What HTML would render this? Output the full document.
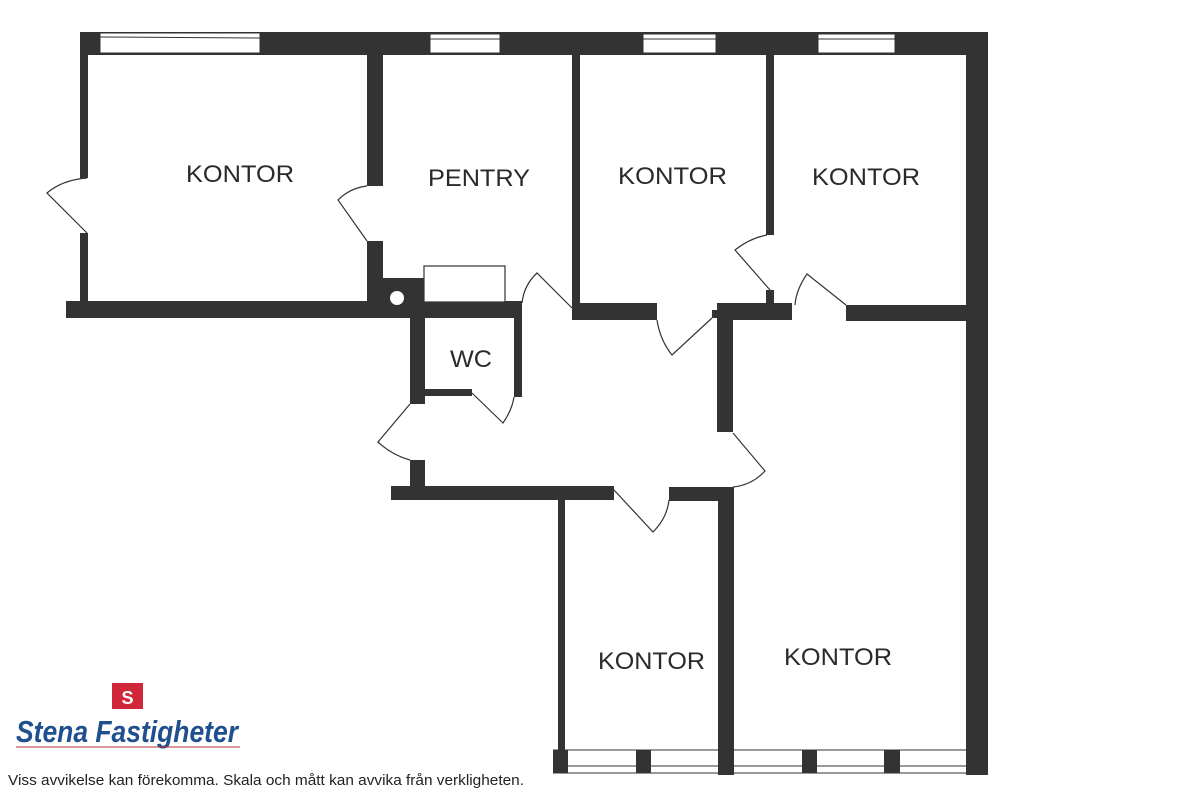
<!DOCTYPE html>
<html><head><meta charset="utf-8"><style>
html,body{margin:0;padding:0;background:#fff;width:1188px;height:800px;overflow:hidden}
svg{display:block}
.t{font-family:"Liberation Sans",Arial,sans-serif;font-size:24px;fill:#2a2a2a}
</style></head><body>
<svg width="1188" height="800" viewBox="0 0 1188 800" xmlns="http://www.w3.org/2000/svg">
<g fill="#333">
<rect x="80" y="32" width="908" height="23"/>
<rect x="966" y="32" width="22" height="743"/>
<rect x="80" y="55" width="8" height="123"/>
<rect x="80" y="233" width="8" height="70"/>
<rect x="66" y="301" width="456" height="17"/>
<rect x="367" y="55" width="16" height="131"/>
<rect x="367" y="241" width="16" height="62"/>
<rect x="383" y="278" width="42" height="40"/>
<rect x="572" y="55" width="8" height="263"/>
<rect x="572" y="303" width="85" height="17"/>
<rect x="766" y="55" width="8" height="180"/>
<rect x="766" y="290" width="8" height="15"/>
<rect x="717" y="303" width="75" height="17"/>
<rect x="712" y="310" width="6" height="8"/>
<rect x="846" y="305" width="120" height="16"/>
<rect x="717" y="318" width="16" height="114"/>
<rect x="410" y="318" width="15" height="86"/>
<rect x="514" y="318" width="8" height="79"/>
<rect x="425" y="389" width="47" height="7"/>
<rect x="410" y="460" width="15" height="27"/>
<rect x="391" y="486" width="223" height="14"/>
<rect x="669" y="487" width="64" height="14"/>
<rect x="718" y="487" width="16" height="288"/>
<rect x="558" y="500" width="7" height="252"/>
<rect x="553" y="750" width="15" height="23"/>
<rect x="636" y="750" width="15" height="23"/>
<rect x="802" y="750" width="15" height="23"/>
<rect x="884" y="750" width="16" height="23"/>
</g>
<g fill="#fff" stroke="#333" stroke-width="1">
<rect x="100" y="33" width="160" height="20"/>
<rect x="430" y="34" width="70" height="19"/>
<rect x="643" y="34" width="73" height="19"/>
<rect x="818" y="34" width="77" height="19"/>
</g>
<g stroke="#333" stroke-width="1">
<line x1="100" y1="37" x2="260" y2="38"/>
<line x1="430" y1="39" x2="500" y2="39"/>
<line x1="643" y1="39" x2="716" y2="39"/>
<line x1="818" y1="39" x2="895" y2="39"/>
<line x1="553" y1="750" x2="966" y2="750"/>
<line x1="553" y1="766" x2="988" y2="766"/>
<line x1="553" y1="773" x2="988" y2="773"/>
</g>
<circle cx="397" cy="298" r="7" fill="#fff"/>
<rect x="424" y="266" width="81" height="36" fill="#fff" stroke="#333" stroke-width="1.2"/>
<g fill="none" stroke="#333" stroke-width="1.2">
<path d="M87 233 L47 193 Q62 180 87 178"/>
<path d="M367 241 L338 200 Q350 188 367 186"/>
<path d="M572 308 L537 273 Q524 285 522 303"/>
<path d="M657 320 Q660 340 672 355 L712 318"/>
<path d="M770 290 L735 250 Q750 238 767 235"/>
<path d="M846 305 L807 274 Q796 290 795 305"/>
<path d="M472 393 L503 423 Q512 410 514 397"/>
<path d="M410 404 L378 442 Q392 455 410 460"/>
<path d="M733 433 L765 471 Q752 485 733 487"/>
<path d="M614 490 L653 532 Q667 518 669 500"/>
</g>
<text class="t" x="186" y="182" textLength="108" lengthAdjust="spacingAndGlyphs">KONTOR</text>
<text class="t" x="428" y="186" textLength="102" lengthAdjust="spacingAndGlyphs">PENTRY</text>
<text class="t" x="618" y="184" textLength="109" lengthAdjust="spacingAndGlyphs">KONTOR</text>
<text class="t" x="812" y="185" textLength="108" lengthAdjust="spacingAndGlyphs">KONTOR</text>
<text class="t" x="450" y="367" textLength="42" lengthAdjust="spacingAndGlyphs">WC</text>
<text class="t" x="598" y="669" textLength="107" lengthAdjust="spacingAndGlyphs">KONTOR</text>
<text class="t" x="784" y="665" textLength="108" lengthAdjust="spacingAndGlyphs">KONTOR</text>
<rect x="112" y="683" width="31" height="26" fill="#d0283a"/>
<text x="127.5" y="704" text-anchor="middle" font-family="Liberation Sans,sans-serif" font-weight="bold" font-size="18" fill="#fff">S</text>
<text x="16" y="742" font-family="Liberation Sans,sans-serif" font-weight="bold" font-style="italic" font-size="31" fill="#1f4f8f" textLength="222" lengthAdjust="spacingAndGlyphs">Stena Fastigheter</text>
<line x1="16" y1="747" x2="240" y2="747" stroke="#b0303a" stroke-width="1"/>
<text x="8" y="785" font-family="Liberation Sans,sans-serif" font-size="15" fill="#222" textLength="516" lengthAdjust="spacingAndGlyphs">Viss avvikelse kan förekomma. Skala och mått kan avvika från verkligheten.</text>
</svg>
</body></html>
